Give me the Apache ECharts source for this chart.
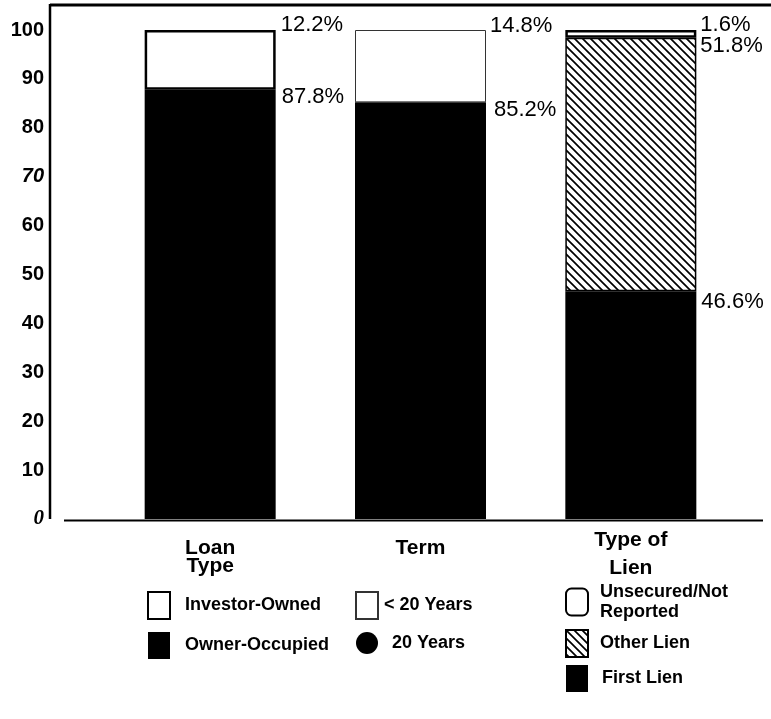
<!DOCTYPE html>
<html>
<head>
<meta charset="utf-8">
<script src="https://cdn.jsdelivr.net/npm/echarts@6/dist/echarts.min.js"></script>
<style>
  html, body { margin: 0; padding: 0; background: #fff; }
  #chart { width: 771px; height: 719px; }
</style>
</head>
<body>
<div id="chart"></div>
<script>
// Categories along the bottom axis
const categories = ['Loan Type', 'Term', 'Type of Lien'];

// Percent shares, one array per stacked segment ('-' = not in that column)
const ownerOccupied = [87.8, '-', '-'];
const investorOwned = [12.2, '-', '-'];
const twentyYears   = ['-', 85.2, '-'];
const underTwenty   = ['-', 14.8, '-'];
const firstLien     = ['-', '-', 46.6];
const otherLien     = ['-', '-', 51.8];
const unsecured     = ['-', '-', 1.6];

// Value axis ticks
const yMin = 0, yMax = 100, yStep = 10;

const SANS = "'Liberation Sans', Arial, Helvetica, sans-serif";

// Diagonal "\" hatching used for the Other Lien segment
function hatchPattern() {
  const c = document.createElement('canvas');
  c.width = 8; c.height = 8;
  const g = c.getContext('2d');
  g.fillStyle = '#fff';
  g.fillRect(0, 0, 8, 8);
  g.strokeStyle = '#000';
  g.lineWidth = 1.7;
  g.beginPath();
  g.moveTo(-2, -2); g.lineTo(10, 10);
  g.moveTo(-2, 6);  g.lineTo(2, 10);
  g.moveTo(6, -2);  g.lineTo(10, 2);
  g.stroke();
  return c;
}

function pctLabel(dx, dy) {
  return {
    show: true,
    position: ['100%', 0],
    offset: [dx, dy],
    align: 'left',
    verticalAlign: 'middle',
    fontFamily: SANS,
    fontSize: 22,
    color: '#000',
    formatter: p => p.value + '%'
  };
}

function seg(name, data, itemStyle, label) {
  return {
    name: name,
    type: 'bar',
    stack: 'share',
    barWidth: 131,
    data: data,
    itemStyle: itemStyle,
    label: label,
    emphasis: { disabled: true },
    silent: true
  };
}

const BLACK = { color: '#000' };

const chart = echarts.init(document.getElementById('chart'), null, { renderer: 'canvas' });

const legendBase = {
  orient: 'vertical',
  padding: 0,
  itemWidth: 22,
  itemHeight: 27,
  selectedMode: false,
  textStyle: { fontFamily: SANS, fontWeight: 'bold', fontSize: 18, color: '#000' }
};

chart.setOption({
  backgroundColor: '#fff',
  animation: false,
  grid: { left: 105, right: 35, top: 30, bottom: 200 },
  xAxis: {
    type: 'category',
    data: categories,
    axisLine: { show: false },
    axisTick: { show: false },
    axisLabel: {
      margin: 7,
      interval: 0,
      color: '#000',
      fontFamily: SANS,
      fontWeight: 'bold',
      fontSize: 21,
      formatter: v => {
        if (v === 'Loan Type') return '{sp| }\n{t|Loan}\n{t|Type}';
        if (v === 'Term') return '{sp| }\n{t|Term}';
        return '{u|Type of}\n{u|Lien}';
      },
      rich: {
        sp: { fontSize: 2, lineHeight: 13 },
        t: { fontFamily: SANS, fontWeight: 'bold', fontSize: 21, lineHeight: 18 },
        u: { fontFamily: SANS, fontWeight: 'bold', fontSize: 21, lineHeight: 28 }
      }
    }
  },
  yAxis: {
    type: 'value',
    min: yMin,
    max: yMax,
    interval: yStep,
    offset: 55,
    splitLine: { show: false },
    axisLine: { show: false },
    axisTick: { show: false },
    axisLabel: {
      margin: 6,
      color: '#000',
      fontFamily: SANS,
      fontWeight: 'bold',
      fontSize: 20,
      formatter: v => v === 70 ? '{it|70}' : v === 0 ? '{zero|0}' : String(v),
      rich: {
        it: { fontFamily: SANS, fontStyle: 'italic', fontWeight: 'bold', fontSize: 20, color: '#000' },
        zero: { fontFamily: "'Liberation Serif', 'DejaVu Serif', serif", fontStyle: 'italic', fontWeight: 'bold', fontSize: 21, color: '#000' }
      }
    }
  },
  legend: [
    Object.assign({}, legendBase, {
      left: 147, top: 591, itemGap: 12,
      data: [
        { name: 'Investor-Owned', icon: 'rect', textStyle: { padding: [0, 0, 0, 10] } },
        { name: 'Owner-Occupied', icon: 'rect', textStyle: { padding: [0, 0, 0, 10] } }
      ]
    }),
    Object.assign({}, legendBase, {
      left: 355, top: 591, itemGap: 12,
      data: [
        { name: '< 20 Years', icon: 'rect', textStyle: { padding: [0, 0, 0, 1] } },
        { name: '20 Years', icon: 'circle', textStyle: { padding: [0, 0, 0, 9] } }
      ]
    }),
    Object.assign({}, legendBase, {
      left: 565, top: 582, itemGap: 7,
      textStyle: Object.assign({}, legendBase.textStyle, { lineHeight: 20 }),
      data: [
        { name: 'Unsecured/Not\nReported', icon: 'roundRect', textStyle: { padding: [0, 0, 0, 7] } },
        { name: 'Other Lien', icon: 'rect', textStyle: { padding: [0, 0, 0, 7] } },
        { name: 'First Lien', icon: 'rect', textStyle: { padding: [0, 0, 0, 9] } }
      ]
    })
  ],
  graphic: [
    // Frame: top rule, left rule and base line
    { type: 'line', shape: { x1: 50, y1: 5, x2: 771, y2: 5 }, style: { stroke: '#000', lineWidth: 3 }, silent: true },
    { type: 'line', shape: { x1: 50, y1: 4, x2: 50, y2: 519 }, style: { stroke: '#000', lineWidth: 2.5 }, silent: true },
    { type: 'line', shape: { x1: 64, y1: 520.5, x2: 763, y2: 520.5 }, style: { stroke: '#000', lineWidth: 2 }, silent: true, z: 10 }
  ],
  series: [
    seg('Owner-Occupied', ownerOccupied, BLACK, pctLabel(6, 7)),
    seg('Investor-Owned', investorOwned, { color: '#fff', borderColor: '#000', borderWidth: 2.5 }, pctLabel(5, -5)),
    seg('20 Years', twentyYears, BLACK, pctLabel(8, 8)),
    seg('< 20 Years', underTwenty, { color: '#fff', borderColor: '#333', borderWidth: 1 }, pctLabel(4, -4)),
    seg('First Lien', firstLien, BLACK, pctLabel(5, 11)),
    seg('Other Lien', otherLien, { color: { image: hatchPattern(), repeat: 'repeat' }, borderColor: '#000', borderWidth: 1.5 }, pctLabel(4, 8)),
    seg('Unsecured/Not\nReported', unsecured, { color: '#fff', borderColor: '#000', borderWidth: 2.5 }, pctLabel(4, -5))
  ]
});
</script>
</body>
</html>
